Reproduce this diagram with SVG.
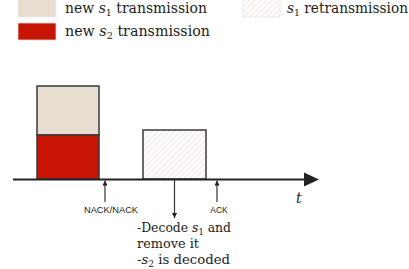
<svg xmlns="http://www.w3.org/2000/svg" width="409" height="269" viewBox="0 0 409 269">
<defs>
<pattern id="hatch" patternUnits="userSpaceOnUse" width="4" height="4" patternTransform="rotate(45)">
<rect width="4" height="4" fill="#ffffff"/>
<line x1="0" y1="0" x2="0" y2="4" stroke="#f3ddd4" stroke-width="1.6"/>
</pattern>
<marker id="ah" viewBox="0 0 10 10" refX="10" refY="5" markerWidth="5" markerHeight="6" orient="auto" markerUnits="userSpaceOnUse">
<path d="M0,0 L10,5 L0,10 z" fill="#222"/>
</marker>
</defs>
<style>
.ser{font-family:"DejaVu Serif","Liberation Serif","Times New Roman",serif;fill:#222}
.san{font-family:"Liberation Sans",Arial,sans-serif;fill:#222;font-size:8.5px}
.box{stroke:#3a3a3a;stroke-width:1.5}
.con{stroke:#333;stroke-width:1.2;fill:none}
</style>
<g id="legend">
<rect x="18" y="-2" width="38" height="19" fill="#e8ddd1" stroke="#eee" stroke-width="0.8"/>
<text class="ser" x="65" y="12.5" font-size="14" textLength="142" lengthAdjust="spacingAndGlyphs">new <tspan font-style="italic">s</tspan><tspan font-size="9.5" dy="3">1</tspan><tspan dy="-3"> transmission</tspan></text>
<rect x="18" y="23" width="38" height="17" fill="#c81402" stroke="#ddd" stroke-width="0.8"/>
<text class="ser" x="65" y="36" font-size="14" textLength="145" lengthAdjust="spacingAndGlyphs">new <tspan font-style="italic">s</tspan><tspan font-size="9.5" dy="3">2</tspan><tspan dy="-3"> transmission</tspan></text>
<rect x="243" y="-2" width="37" height="19" fill="url(#hatch)" stroke="#e4e4e4" stroke-width="0.8"/>
<text class="ser" x="287" y="12.5" font-size="14" textLength="121" lengthAdjust="spacingAndGlyphs"><tspan font-style="italic">s</tspan><tspan font-size="9.5" dy="3">1</tspan><tspan dy="-3"> retransmission</tspan></text>
</g>
<g id="tx1">
<rect class="box" x="37" y="86" width="62" height="49" fill="#e8ddd1"/>
<rect class="box" x="37" y="135" width="62" height="44" fill="#c81402"/>
</g>
<g id="retx">
<rect class="box" x="143" y="130" width="63" height="49" fill="url(#hatch)"/>
</g>
<g id="connectors">
<line x1="13" y1="179.5" x2="306" y2="179.5" stroke="#222" stroke-width="2.2"/>
<path d="M304,172.5 L319,179.5 L304,186.5 z" fill="#222"/>
<line class="con" x1="105" y1="202" x2="105" y2="180.5" marker-end="url(#ah)"/>
<line class="con" x1="217" y1="202" x2="217" y2="180.5" marker-end="url(#ah)"/>
<line class="con" x1="174.5" y1="180" x2="174.5" y2="218" marker-end="url(#ah)"/>
</g>
<g id="labels">
<text class="san" x="111" y="213" text-anchor="middle" textLength="54" lengthAdjust="spacingAndGlyphs">NACK/NACK</text>
<text class="san" x="219" y="213" text-anchor="middle">ACK</text>
<text class="ser" x="296" y="203" font-size="14" font-style="italic">t</text>
<text class="ser" x="137" y="232" font-size="12.5" textLength="94" lengthAdjust="spacingAndGlyphs">-Decode <tspan font-style="italic">s</tspan><tspan font-size="8.5" dy="2.5">1</tspan><tspan dy="-2.5"> and</tspan></text>
<text class="ser" x="137" y="248" font-size="12.5" textLength="62" lengthAdjust="spacingAndGlyphs">remove it</text>
<text class="ser" x="137" y="264" font-size="12.5" textLength="93" lengthAdjust="spacingAndGlyphs">-<tspan font-style="italic">s</tspan><tspan font-size="8.5" dy="2.5">2</tspan><tspan dy="-2.5"> is decoded</tspan></text>
</g>
</svg>
